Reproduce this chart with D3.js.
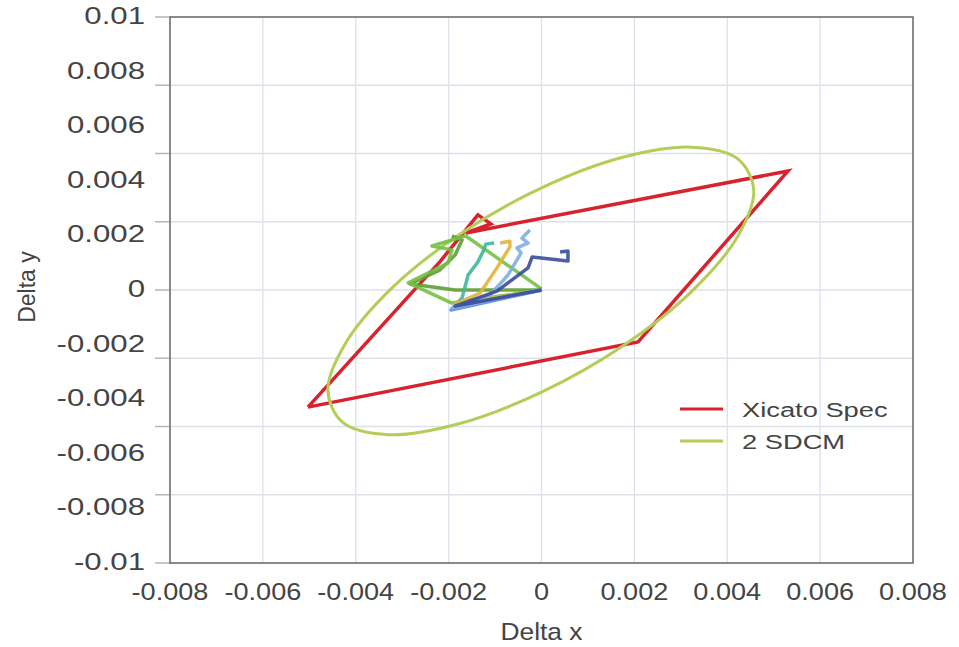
<!DOCTYPE html>
<html>
<head>
<meta charset="utf-8">
<script src="https://cdn.jsdelivr.net/npm/d3@7"></script>
<style>
  body { margin: 0; background: #fff; }
  svg { display: block; font-family: "Liberation Sans", Arial, sans-serif; }
</style>
</head>
<body>
<div id="chart"></div>
<script>
// tick labels / grid positions
const xTicks = [-0.008, -0.006, -0.004, -0.002, 0, 0.002, 0.004, 0.006, 0.008];
const xTickLabels = ["-0.008", "-0.006", "-0.004", "-0.002", "0", "0.002", "0.004", "0.006", "0.008"];
const yLabelValues = [0.01, 0.008, 0.006, 0.004, 0.002, 0, -0.002, -0.004, -0.006, -0.008, -0.01];
const yTickLabels = ["0.01", "0.008", "0.006", "0.004", "0.002", "0", "-0.002", "-0.004", "-0.006", "-0.008", "-0.01"];
// the horizontal grid does not follow the labels in the original
const yGrid = [-0.01, -0.0075, -0.005, -0.0025, 0, 0.0025, 0.005, 0.0075, 0.01];

// Xicato spec quadrilateral (with the little hook at the top-left corner)
const xicatoSpec = [
  [-0.00503, -0.00429], [-0.00219, 0.00103], [-0.00137, 0.00275], [-0.00109, 0.00242],
  [-0.00163, 0.00209], [0.00531, 0.00436], [0.00208, -0.00190], [-0.00503, -0.00429]
];

// 2 SDCM ellipse, points read around the outline
const sdcm2 = [
  [0.00457, 0.00366], [0.00422, 0.00481], [0.00323, 0.00523], [0.00175, 0.00486],
  [0, 0.00374], [-0.00175, 0.00205], [-0.00323, 0.00006], [-0.00422, -0.00195],
  [-0.00460, -0.00366], [-0.00428, -0.00485], [-0.00330, -0.00530], [-0.00178, -0.00490],
  [0, -0.00374], [0.00175, -0.00205], [0.00323, -0.00006], [0.00422, 0.00195]
];

// measured drift of the individual modules
const driftGreen = [[0, 0], [-0.00193, -0.00048], [-0.00287, 0.00026], [-0.00201, 0.00099], [-0.00193, 0.00147], [-0.00236, 0.00161], [-0.00163, 0.00198], [0, 0.00004]];
const driftOlive = [[0, 0], [-0.00186, 0], [-0.00283, 0.00022], [-0.00219, 0.00073], [-0.00186, 0.00128], [-0.00171, 0.00183], [-0.00193, 0.00198]];
const driftTeal = [[0, 0], [-0.00188, -0.00059], [-0.00171, -0.00029], [-0.00158, 0.00055], [-0.00137, 0.00103], [-0.00124, 0.00147], [-0.00120, 0.00168], [-0.00102, 0.00172]];
const driftGold = [[0, 0], [-0.00186, -0.00051], [-0.00132, -0.00011], [-0.00096, 0.00081], [-0.00068, 0.00158], [-0.00068, 0.00179], [-0.00089, 0.00172]];
const driftSteel = [[0, 0], [-0.00195, -0.00073], [-0.00100, -0.00035], [0, 0]];
const driftLightBlue = [[0, 0], [-0.00193, -0.00066], [-0.00111, -0.00018], [-0.00072, 0.00055], [-0.00044, 0.00136], [-0.00053, 0.00154], [-0.00029, 0.00172], [-0.00042, 0.00190], [-0.00025, 0.00220]];
const driftNavy = [[0, 0], [-0.00186, -0.00059], [-0.00096, -0.00004], [-0.00029, 0.00081], [-0.00020, 0.00121], [0.00057, 0.00106], [0.00057, 0.00143], [0.00040, 0.00139]];

const driftSeries = [
  { pts: driftOlive, color: "#5e9e34" },
  { pts: driftGreen, color: "#74c043" },
  { pts: driftTeal, color: "#3fb79e" },
  { pts: driftGold, color: "#e2b43a" },
  { pts: driftSteel, color: "#5a8fd4" },
  { pts: driftLightBlue, color: "#7eaee5" },
  { pts: driftNavy, color: "#3a4c9c" }
];

const legendItems = [
  { label: "Xicato Spec", color: "#d8232f" },
  { label: "2 SDCM", color: "#b3cd56" }
];

const width = 959, height = 647;
const x = d3.scaleLinear().domain([-0.008, 0.008]).range([170, 913]);
const y = d3.scaleLinear().domain([-0.01, 0.01]).range([563, 17]);

const svg = d3.select("#chart").append("svg")
  .attr("width", width)
  .attr("height", height);

// grid
svg.append("g").selectAll("line")
  .data(xTicks).enter().append("line")
  .attr("x1", d => x(d)).attr("x2", d => x(d))
  .attr("y1", y(0.01)).attr("y2", y(-0.01))
  .style("stroke", "#dce1ea").style("stroke-width", 1.3);

svg.append("g").selectAll("line")
  .data(yGrid).enter().append("line")
  .attr("x1", x(-0.008) - 15).attr("x2", x(0.008))
  .attr("y1", d => y(d)).attr("y2", d => y(d))
  .style("stroke", "#dce1ea").style("stroke-width", 1.3);

// left tick stubs
svg.append("g").selectAll("line")
  .data(yGrid).enter().append("line")
  .attr("x1", x(-0.008) - 15).attr("x2", x(-0.008))
  .attr("y1", d => y(d)).attr("y2", d => y(d))
  .style("stroke", "#b5b5b5").style("stroke-width", 1.3);

// frame
svg.append("rect")
  .attr("x", x(-0.008)).attr("y", y(0.01))
  .attr("width", x(0.008) - x(-0.008))
  .attr("height", y(-0.01) - y(0.01))
  .style("fill", "none").style("stroke", "#6b6b6b").style("stroke-width", 1.5);

// tick labels (the picture is a bit wider than tall, hence the scaleX)
svg.append("g").selectAll("text")
  .data(xTicks).enter().append("text")
  .attr("transform", d => `translate(${x(d)},600) scale(1.13,1)`)
  .attr("text-anchor", "middle")
  .style("font-size", "24px").style("fill", "#444")
  .text((d, i) => xTickLabels[i]);

svg.append("g").selectAll("text")
  .data(yLabelValues).enter().append("text")
  .attr("transform", d => `translate(145,${y(d) + 7}) scale(1.3,1)`)
  .attr("text-anchor", "end")
  .style("font-size", "24px").style("fill", "#444")
  .text((d, i) => yTickLabels[i]);

// axis titles
svg.append("text")
  .attr("transform", `translate(${x(0)},640) scale(1.1,1)`)
  .attr("text-anchor", "middle")
  .style("font-size", "24px").style("fill", "#444")
  .text("Delta x");

svg.append("text")
  .attr("transform", `translate(35,${y(0) - 3}) rotate(-90)`)
  .attr("text-anchor", "middle")
  .style("font-size", "23px").style("fill", "#444")
  .text("Delta y");

const line = d3.line().x(d => x(d[0])).y(d => y(d[1]));

svg.append("path")
  .attr("d", line(xicatoSpec))
  .style("fill", "none").style("stroke", "#d8232f")
  .style("stroke-width", 3.5).style("stroke-linejoin", "miter");

svg.append("path")
  .attr("d", line.curve(d3.curveCatmullRomClosed)(sdcm2))
  .style("fill", "none").style("stroke", "#b3cd56").style("stroke-width", 3);

line.curve(d3.curveLinear);

svg.append("g").selectAll("path")
  .data(driftSeries).enter().append("path")
  .attr("d", d => line(d.pts))
  .style("fill", "none").style("stroke", d => d.color)
  .style("stroke-width", 3.5).style("stroke-linejoin", "round")
  .style("opacity", 0.9);

// legend
const legend = svg.append("g").selectAll("g")
  .data(legendItems).enter().append("g")
  .attr("transform", (d, i) => `translate(680,${409 + i * 32})`);

legend.append("line")
  .attr("x1", 0).attr("x2", 43)
  .style("stroke", d => d.color).style("stroke-width", 3);

legend.append("text")
  .attr("transform", "translate(62,8) scale(1.3,1)")
  .style("font-size", "21px").style("fill", "#444")
  .text(d => d.label);
</script>
</body>
</html>
